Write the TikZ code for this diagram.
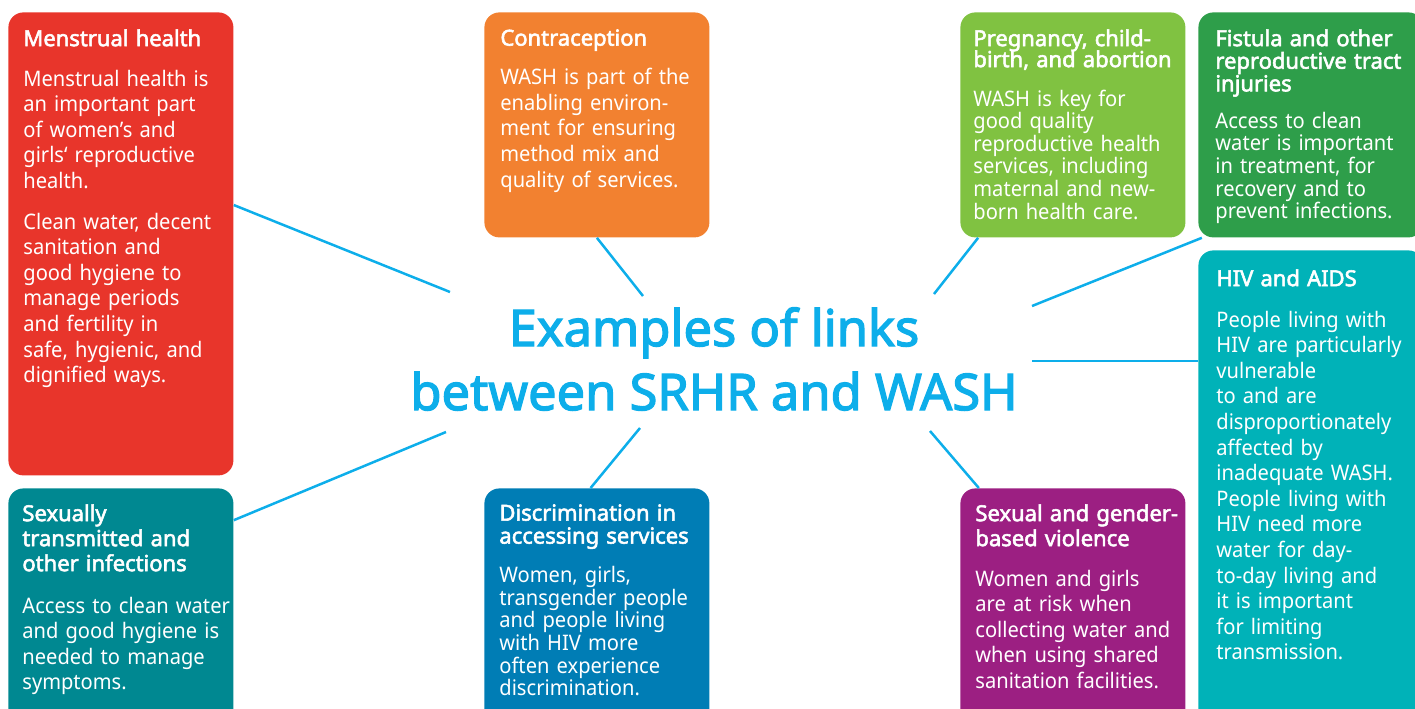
\documentclass[tikz,border=0pt]{standalone}
\usepackage{fontspec}
\setmainfont{Noto Sans}[AutoFakeBold=2.5]
\newfontfamily\bodyfont{Noto Sans}[FakeStretch=0.94]
\usetikzlibrary{calc}

\definecolor{mhred}{HTML}{E8352B}
\definecolor{coorange}{HTML}{F28130}
\definecolor{prgreen}{HTML}{80C241}
\definecolor{figreen}{HTML}{2E9E4A}
\definecolor{hvteal}{HTML}{00B2B8}
\definecolor{stteal}{HTML}{008891}
\definecolor{diblue}{HTML}{007DB5}
\definecolor{sgpurple}{HTML}{9C1F82}
\definecolor{linkblue}{HTML}{0DAEEA}

% bold heading of a panel, then the gap down to the body text
\newcommand{\hd}[3][11.5]{\lineskiplimit=-\maxdimen{\normalfont\bfseries\fontsize{11}{#1}\selectfont #3\par}\vspace{\dimexpr #2-\baselineskip\relax}}

\begin{document}
\begin{tikzpicture}[x=0.5pt, y=-0.5pt,
    panel/.style={rounded corners=7.5pt, minimum width=112.5pt, inner sep=0pt, anchor=north west},
    txt/.style={anchor=north west, inner sep=0pt, text width=125pt, align=left, text=white, font=\bodyfont\fontsize{10.7}{12.8}\selectfont},
    tight/.style={font=\bodyfont\fontsize{10.7}{11.3}\selectfont},
    link/.style={draw=linkblue, line width=1.25pt}]
    \useasboundingbox (0,0) rectangle (1415,708);

    % Panels
    \node[panel, fill=mhred, minimum height=231.5pt] (mh) at (8,12) {};
    \node[panel, fill=coorange, minimum height=112.5pt] (co) at (484,12) {};
    \node[panel, fill=prgreen, minimum height=112.5pt] (pr) at (960,12) {};
    \node[panel, fill=figreen, minimum height=112.5pt] (fi) at (1198,12) {};
    \node[panel, fill=hvteal, minimum height=240pt] (hv) at (1198,250) {};
    \node[panel, fill=stteal, minimum height=120pt] (st) at (8,488) {};
    \node[panel, fill=diblue, minimum height=120pt] (di) at (484,488) {};
    \node[panel, fill=sgpurple, minimum height=120pt] (sg) at (960,488) {};

    % Title
    \node[font=\bfseries\fontsize{25.3}{32}\selectfont, text=linkblue, align=center] (title) at (714,359) {Examples of links\\between SRHR and WASH};

    % Panel texts
    \node[txt] (mhtext) at ([shift={(15,17)}]mh.north west) {\hd{20pt}{Menstrual health}Menstrual health is\\an important part\\of women’s and\\girls‘ reproductive\\health.\par\vspace{7.5pt}Clean water, decent\\sanitation and\\good hygiene to\\manage periods\\and fertility in\\safe, hygienic, and\\dignified ways.};
    \node[txt] (cotext) at ([shift={(16,17)}]co.north west) {\hd{19.5pt}{Contraception}WASH is part of the\\enabling environ-\\ment for ensuring\\method mix and\\quality of services.};
    \node[txt, tight] (prtext) at ([shift={(13,17)}]pr.north west) {\hd[10.5]{19.5pt}{Pregnancy, child-\\birth, and abortion}WASH is key for\\good quality\\reproductive health\\services, including\\maternal and new-\\born health care.};
    \node[txt, tight] (fitext) at ([shift={(17,17)}]fi.north west) {\hd[11.3]{18.5pt}{Fistula and other\\reproductive tract\\injuries}Access to clean\\water is important\\in treatment, for\\recovery and to\\prevent infections.};
    \node[txt] (hvtext) at ([shift={(18,19)}]hv.north west) {\hd{20.5pt}{HIV and AIDS}People living with\\HIV are particularly\\vulnerable\\to and are\\disproportionately\\affected by\\inadequate WASH.\\People living with\\HIV need more\\water for day-\\to-day living and\\it is important\\for limiting\\transmission.};
    \node[txt] (sttext) at ([shift={(14,16)}]st.north west) {\hd[12.5]{21pt}{Sexually\\transmitted and\\other infections}Access to clean water\\and good hygiene is\\needed to manage\\symptoms.};
    \node[txt, tight] (ditext) at ([shift={(15,16)}]di.north west) {\hd{19.5pt}{Discrimination in\\accessing services}Women, girls,\\transgender people\\and people living\\with HIV more\\often experience\\discrimination.};
    \node[txt] (sgtext) at ([shift={(15,16)}]sg.north west) {\hd[12.5]{20pt}{Sexual and gender-\\based violence}Women and girls\\are at risk when\\collecting water and\\when using shared\\sanitation facilities.};

    % Free ends of the links round the title
    \coordinate (mhend) at (450,292);
    \coordinate (coend) at (643,296);
    \coordinate (prend) at (934,294);
    \coordinate (fiend) at (1032,306);
    \coordinate (hvend) at (1032,361);
    \coordinate (sgend) at (930,431);
    \coordinate (diend) at (640,428);
    \coordinate (stend) at (446,432);

    % Links
    \draw[link] (mh.19.35) -- (mhend);
    \draw[link] (co.south) -- (coend);
    \draw[link] (pr.230.6) -- (prend);
    \draw[link] (fi.226.6) -- (fiend);
    \draw[link] (hvend -| hv.west) -- (hvend);
    \draw[link] (sg.128.2) -- (sgend);
    \draw[link] (di.93.1) -- (diend);
    \draw[link] (st.38.66) -- (stend);
\end{tikzpicture}
\end{document}
